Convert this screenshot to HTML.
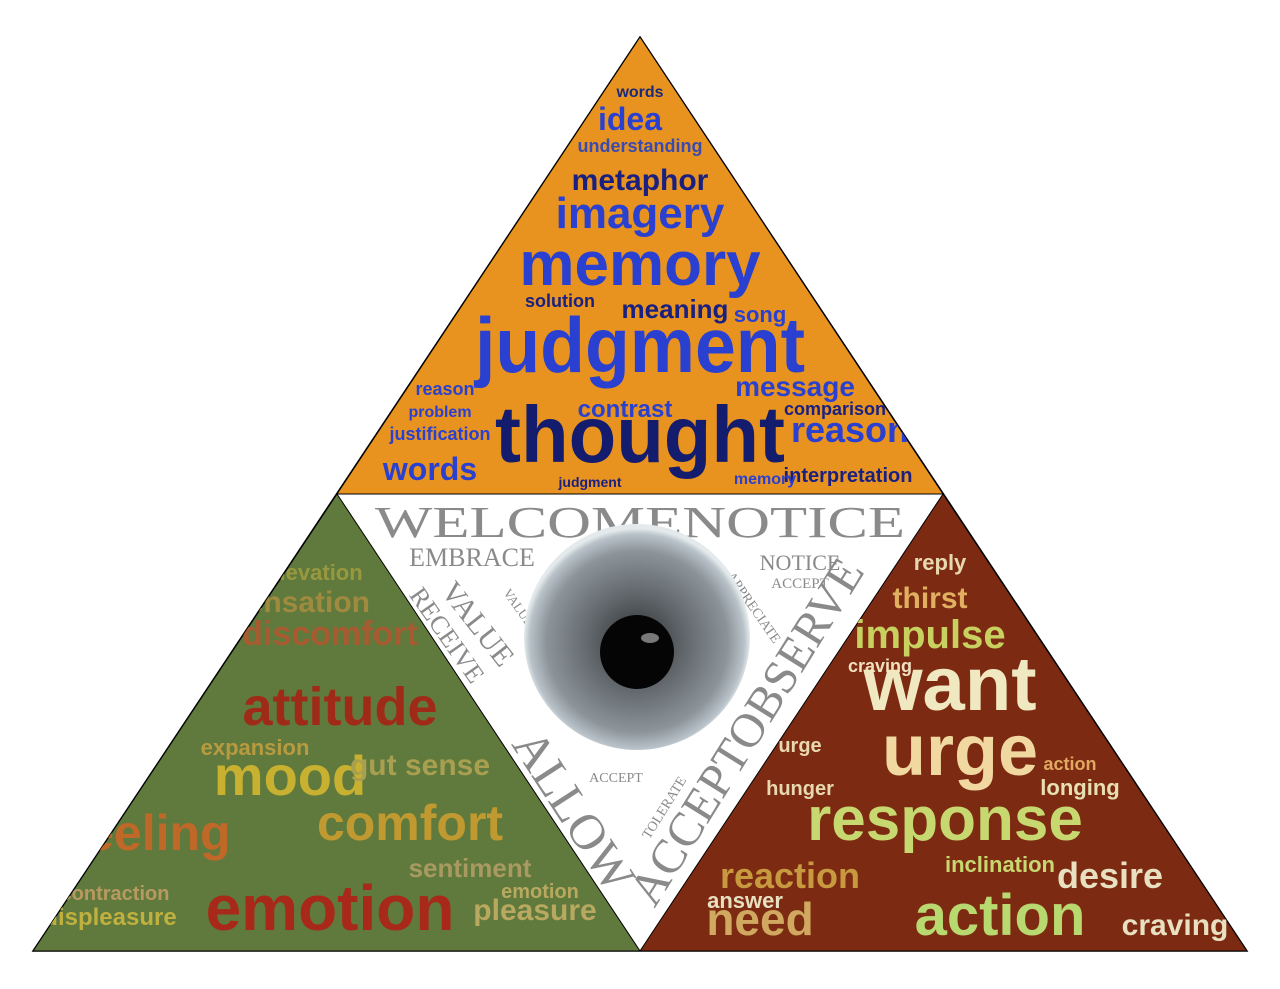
<!DOCTYPE html>
<html><head><meta charset="utf-8"><style>
html,body{margin:0;padding:0;background:#fff;width:1280px;height:989px;overflow:hidden}
svg{display:block}
.t{font-family:"Liberation Sans",sans-serif;font-weight:bold;text-anchor:middle}
.s{font-family:"Liberation Serif",serif;text-anchor:middle;fill:#8a8a8a}
</style></head><body>
<svg width="1280" height="989" viewBox="0 0 1280 989">
<defs>
<clipPath id="ct"><polygon points="640,37 337,494 943,494"/></clipPath>
<clipPath id="cl"><polygon points="337,494 33,951 640,951"/></clipPath>
<clipPath id="cr"><polygon points="943,494 640,951 1247,951"/></clipPath>
<radialGradient id="eye" cx="50%" cy="52%" r="50%">
<stop offset="0" stop-color="#2c3034"/><stop offset="0.4" stop-color="#5e6468"/><stop offset="0.8" stop-color="#8c949a"/><stop offset="0.95" stop-color="#b8c2c8"/><stop offset="1" stop-color="#e4eaec"/></radialGradient>
</defs>
<polygon points="640,37 33,951 1247,951" fill="#fff" stroke="#000" stroke-width="1.5"/>
<polygon points="640,37 337,494 943,494" fill="#e8931f" stroke="#000"/>
<polygon points="337,494 33,951 640,951" fill="#5f7a3c" stroke="#000"/>
<polygon points="943,494 640,951 1247,951" fill="#7c2b12" stroke="#000"/>
<g clip-path="url(#ct)" class="t">
<text x="640" y="97" font-size="16" fill="#1a2a7a">words</text>
<text x="630" y="130" font-size="32" fill="#2a40d0">idea</text>
<text x="640" y="152" font-size="18" fill="#3a4ab0">understanding</text>
<text x="640" y="190" font-size="30" fill="#1a2080">metaphor</text>
<text x="640" y="228" font-size="44" fill="#2a40d0">imagery</text>
<text x="640" y="285" font-size="62" fill="#2a40d0">memory</text>
<text x="560" y="307" font-size="18" fill="#1a2080">solution</text>
<text x="675" y="318" font-size="26" fill="#1a2080">meaning</text>
<text x="760" y="322" font-size="22" fill="#2a40d0">song</text>
<text x="640" y="372" font-size="78" fill="#2a40d0" textLength="330" lengthAdjust="spacingAndGlyphs">judgment</text>
<text x="795" y="396" font-size="28" fill="#2a40d0">message</text>
<text x="445" y="395" font-size="18" fill="#2a40d0">reason</text>
<text x="625" y="417" font-size="24" fill="#2a40d0">contrast</text>
<text x="640" y="462" font-size="80" fill="#141c6e" textLength="290" lengthAdjust="spacingAndGlyphs">thought</text>
<text x="850" y="442" font-size="36" fill="#2a40d0">reason</text>
<text x="835" y="415" font-size="18" fill="#1a2080">comparison</text>
<text x="440" y="440" font-size="18" fill="#2a40d0">justification</text>
<text x="430" y="480" font-size="32" fill="#2a40d0">words</text>
<text x="848" y="482" font-size="20" fill="#1a2080">interpretation</text>
<text x="590" y="487" font-size="14" fill="#1a2080">judgment</text>
<text x="765" y="484" font-size="16" fill="#2a40d0">memory</text>
<text x="440" y="417" font-size="16" fill="#2a40d0">problem</text>
</g>
<g clip-path="url(#cl)" class="t">
<text x="315" y="580" font-size="22" fill="#a8a040" opacity=".8">elevation</text>
<text x="300" y="612" font-size="30" fill="#a08a40">sensation</text>
<text x="330" y="645" font-size="34" fill="#a85a30">discomfort</text>
<text x="340" y="725" font-size="54" fill="#a02a18">attitude</text>
<text x="255" y="755" font-size="22" fill="#b89a40">expansion</text>
<text x="290" y="795" font-size="56" fill="#c8b030">mood</text>
<text x="420" y="775" font-size="30" fill="#a8a050">gut sense</text>
<text x="410" y="840" font-size="50" fill="#c09a30">comfort</text>
<text x="150" y="850" font-size="50" fill="#c06828">feeling</text>
<text x="470" y="877" font-size="26" fill="#a89a60">sentiment</text>
<text x="330" y="930" font-size="64" fill="#a8281a">emotion</text>
<text x="110" y="925" font-size="24" fill="#c0b040">displeasure</text>
<text x="115" y="900" font-size="20" fill="#b89a60">contraction</text>
<text x="535" y="920" font-size="30" fill="#b8a860">pleasure</text>
<text x="540" y="898" font-size="20" fill="#b8a860">emotion</text>
</g>
<g clip-path="url(#cr)" class="t">
<text x="940" y="570" font-size="22" fill="#e8d8b0">reply</text>
<text x="930" y="608" font-size="30" fill="#e0b060">thirst</text>
<text x="930" y="648" font-size="40" fill="#c8d060">impulse</text>
<text x="880" y="672" font-size="18" fill="#f0e0c0">craving</text>
<text x="950" y="710" font-size="76" fill="#f0e8c0">want</text>
<text x="800" y="752" font-size="20" fill="#e8d8b0">urge</text>
<text x="960" y="775" font-size="72" fill="#f0d8a0">urge</text>
<text x="1070" y="770" font-size="18" fill="#e0a860">action</text>
<text x="1080" y="795" font-size="22" fill="#e8e0b0">longing</text>
<text x="800" y="795" font-size="20" fill="#e8d8b0">hunger</text>
<text x="945" y="840" font-size="62" fill="#c8d870">response</text>
<text x="790" y="888" font-size="36" fill="#c89a40">reaction</text>
<text x="1000" y="872" font-size="22" fill="#c8d870">inclination</text>
<text x="1110" y="888" font-size="36" fill="#e8e0c0">desire</text>
<text x="760" y="935" font-size="46" fill="#d0a860">need</text>
<text x="1000" y="935" font-size="58" fill="#b8d870">action</text>
<text x="1175" y="935" font-size="30" fill="#e8e0c0">craving</text>
<text x="745" y="908" font-size="22" fill="#e8e0c0">answer</text>
</g>
<g>
<text class="s" x="640" y="537" font-size="44" textLength="530" lengthAdjust="spacingAndGlyphs">WELCOMENOTICE</text>
<text class="s" x="472" y="566" font-size="26">EMBRACE</text>
<text class="s" x="800" y="570" font-size="22">NOTICE</text>
<text class="s" x="800" y="588" font-size="15">ACCEPT</text>
<text class="s" x="470" y="630" font-size="30" transform="rotate(52 470 630)">VALUE</text>
<text class="s" x="440" y="640" font-size="26" transform="rotate(55 440 640)">RECEIVE</text>
<text class="s" x="515" y="610" font-size="13" transform="rotate(55 515 610)">VALUE</text>
<text class="s" x="560" y="820" font-size="50" transform="rotate(57 560 820)">ALLOW</text>
<text class="s" x="750" y="610" font-size="14" transform="rotate(55 750 610)">APPRECIATE</text>
<text class="s" x="760" y="740" font-size="48" transform="rotate(-58 760 740)">ACCEPTOBSERVE</text>
<text class="s" x="668" y="810" font-size="14" transform="rotate(-58 668 810)">TOLERATE</text>
<text class="s" x="616" y="782" font-size="14">ACCEPT</text>
<circle cx="637" cy="637" r="113" fill="url(#eye)"/>
<circle cx="637" cy="652" r="37" fill="#050505"/>
<ellipse cx="650" cy="638" rx="9" ry="5" fill="#aaa" opacity=".7"/>
</g>
</svg>
</body></html>
